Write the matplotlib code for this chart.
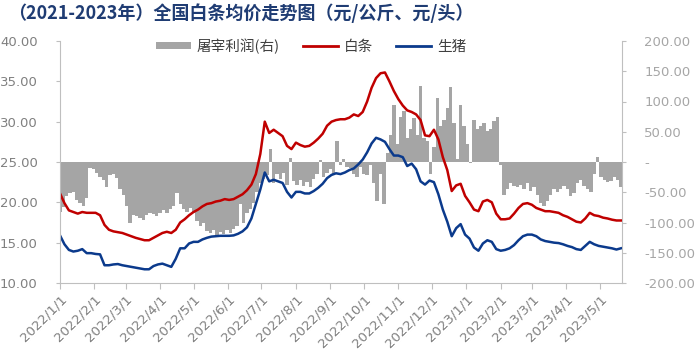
import matplotlib
matplotlib.use('Agg')
import matplotlib.pyplot as plt
import pandas as pd
from matplotlib.patches import Patch
from matplotlib.lines import Line2D
from matplotlib.ticker import FuncFormatter, FixedLocator

plt.rcParams['font.family'] = ['Noto Sans CJK SC', 'DejaVu Sans']

title = "（2021-2023年）全国白条均价走势图（元/公斤、元/头）"
series_names = ["屠宰利润(右)", "白条", "生猪"]

start = pd.Timestamp('2022-01-01')
end = pd.Timestamp('2023-05-21')

# 白条 (元/公斤), sampled every 4 days from 2022-01-01
baitiao = [
    21.1, 19.9, 19.0, 18.8, 18.6, 18.8, 18.7, 18.7, 18.7, 18.4,
    17.2, 16.6, 16.4, 16.3, 16.2, 16.0, 15.8, 15.6, 15.45, 15.3,
    15.3, 15.6, 15.9, 16.2, 16.35, 16.2, 16.6, 17.5, 17.9, 18.4,
    18.8, 19.1, 19.5, 19.8, 19.9, 20.1, 20.2, 20.4, 20.3, 20.4,
    20.7, 21.0, 21.5, 22.2, 23.5, 26.0, 30.0, 28.6, 29.0, 28.6,
    28.2, 27.0, 26.6, 27.4, 27.1, 26.9, 27.0, 27.4, 27.9, 28.5,
    29.5, 30.0, 30.2, 30.3, 30.3, 30.5, 30.9, 30.7, 31.2, 32.5,
    34.2, 35.4, 36.0, 36.1, 35.0, 33.8, 32.8, 32.0, 31.4, 31.2,
    30.9, 30.2, 28.3, 28.2, 29.0, 27.8, 25.6, 24.0, 21.4, 22.1,
    22.3, 20.8, 20.0, 19.1, 18.9, 20.1, 20.3, 20.0, 18.6, 17.9,
    17.9, 18.0, 18.6, 19.3, 19.8, 19.9, 19.7, 19.3, 19.1, 18.9,
    18.9, 18.8, 18.7, 18.4, 18.2, 17.9, 17.6, 17.5, 18.0, 18.7,
    18.4, 18.3, 18.1, 18.0, 17.85, 17.75, 17.75,
]

# 生猪 (元/公斤), sampled every 4 days from 2022-01-01
shengzhu = [
    15.9, 14.8, 14.1, 13.9, 14.0, 14.2, 13.7, 13.7, 13.6, 13.55,
    12.2, 12.2, 12.3, 12.35, 12.2, 12.1, 12.0, 11.9, 11.8, 11.7,
    11.7, 12.1, 12.3, 12.4, 12.2, 12.0, 13.0, 14.3, 14.3, 14.9,
    15.1, 15.1, 15.4, 15.6, 15.75, 15.8, 15.85, 15.85, 15.85, 15.9,
    16.1, 16.4, 16.9, 18.0, 19.8, 21.6, 23.7, 22.6, 22.8, 22.6,
    22.4, 21.3, 20.6, 21.3, 21.3, 21.1, 21.1, 21.4, 21.8, 22.3,
    23.0, 23.4, 23.6, 23.5, 23.7, 24.0, 24.2, 24.7, 25.3, 26.2,
    27.3, 28.0, 27.8, 27.5, 26.6, 25.8, 25.8, 25.6, 24.5, 24.8,
    24.1, 22.6, 22.2, 22.7, 22.5, 21.0, 19.1, 17.6, 15.8, 16.8,
    17.3, 16.0, 15.5, 14.4, 14.0, 14.9, 15.3, 15.1, 14.2, 14.0,
    14.1, 14.3, 14.7, 15.3, 15.8, 16.0, 16.0, 15.8, 15.4, 15.2,
    15.1, 15.0, 14.95, 14.8, 14.6, 14.45, 14.2, 14.1, 14.6, 15.1,
    14.8, 14.6, 14.5, 14.4, 14.3, 14.15, 14.3,
]

# 屠宰利润 (元/头), sampled every 3 days from 2022-01-01
profit = [
    -82, -75, -57, -52, -50, -62, -68, -72, -60, -10,
    -12, -18, -25, -30, -41, -22, -20, -27, -45, -55,
    -72, -100, -88, -90, -92, -96, -88, -85, -86, -90,
    -84, -80, -85, -78, -72, -52, -70, -78, -82, -76,
    -85, -98, -105, -100, -114, -118, -112, -120, -115, -119,
    -113, -118, -110, -105, -70, -100, -85, -78, -68, -50,
    -35, -28, -22, 22, -35, -20, -28, -18, -38, 6,
    -32, -38, -30, -40, -33, -42, -28, -20, 3, -25,
    -18, -12, -22, 35, -5, 5, -8, -10, -20, -24,
    -8, -20, -22, -5, -35, -65, -20, -70, 15, 45,
    95, 30, 75, 85, 40, 55, 72, 45, 125, 40,
    35, -20, 25, 105, 60, 70, 90, 124, 64, 5,
    94, 60, 30, -2, 70, 55, 60, 65, 52, 55,
    68, 74, -5, -55, -45, -35, -40, -42, -38, -45,
    -35, -48, -42, -55, -68, -72, -65, -55, -45, -50,
    -44, -40, -45, -57, -52, -35, -30, -40, -45, -50,
    -20, 9, -25, -30, -33, -32, -25, -30, -42,
]

line_dates = pd.date_range(start, periods=len(baitiao), freq='4D')
bar_dates = pd.date_range(start, periods=len(profit), freq='3D')
month_ticks = pd.date_range('2022-01-01', '2023-05-01', freq='MS')

fig = plt.figure(figsize=(7.0, 3.51), dpi=100)
L, R, T, B = 60, 622, 41, 283
ax = fig.add_axes([L / 700, 1 - B / 351, (R - L) / 700, (B - T) / 351])
ax2 = ax.twinx()

ax2.bar(bar_dates, profit, width=3.0, color='#a5a5a5', linewidth=0, align='center')
ax.plot(line_dates, baitiao, color='#c00000', lw=1.8, solid_joinstyle='round')
ax.plot(line_dates, shengzhu, color='#0b3a8c', lw=1.8, solid_joinstyle='round')
ax.set_zorder(ax2.get_zorder() + 1)
ax.patch.set_visible(False)

ax.set_xlim(start, end)
ax.set_ylim(10, 40)
ax2.set_ylim(-200, 200)

ax.yaxis.set_major_locator(FixedLocator([10, 15, 20, 25, 30, 35, 40]))
ax.yaxis.set_major_formatter(FuncFormatter(lambda v, p: f"{v:.2f}"))
ax2.yaxis.set_major_locator(FixedLocator([-200, -150, -100, -50, 0, 50, 100, 150, 200]))
ax2.yaxis.set_major_formatter(FuncFormatter(lambda v, p: "-" if abs(v) < 1e-9 else f"{v:.2f}"))

ax.set_xticks(month_ticks)
ax.set_xticklabels([f"{d.year}/{d.month}/{d.day}" for d in month_ticks],
                   rotation=45, ha='right', va='top', rotation_mode='anchor',
                   fontsize=9.5, color='#7f7f7f', family='DejaVu Sans')

spine_col = '#bfbfbf'
for a in (ax, ax2):
    a.spines['top'].set_visible(False)
ax.spines['right'].set_visible(False)
ax2.spines['left'].set_visible(False)
ax2.spines['bottom'].set_visible(False)
ax.spines['left'].set_color(spine_col)
ax.spines['bottom'].set_color(spine_col)
ax2.spines['right'].set_color(spine_col)

ax.tick_params(axis='y', length=3, color=spine_col, pad=13, labelsize=9.5, labelcolor='#808080')
ax2.tick_params(axis='y', length=3, color=spine_col, pad=13, labelsize=9.5, labelcolor='#a6a6a6')
ax.tick_params(axis='x', length=4, color=spine_col, pad=3)
for lab in ax.get_yticklabels() + ax2.get_yticklabels():
    lab.set_family('DejaVu Sans')

handles = [Patch(facecolor='#a5a5a5', edgecolor='none'),
           Line2D([0], [0], color='#c00000', lw=2),
           Line2D([0], [0], color='#0b3a8c', lw=2)]
fig.legend(handles, series_names, loc='center', bbox_to_anchor=(311 / 700, 1 - 46 / 351),
           ncol=3, frameon=False, fontsize=10.5, handlelength=2.4, handleheight=0.45,
           columnspacing=1.6, handletextpad=0.4, labelcolor='#404040')

fig.text(8 / 700, 1 - 13 / 351, title, fontsize=13, fontweight='bold', color='#1f3c73',
         ha='left', va='center')

fig.savefig('out.png', dpi=100)
